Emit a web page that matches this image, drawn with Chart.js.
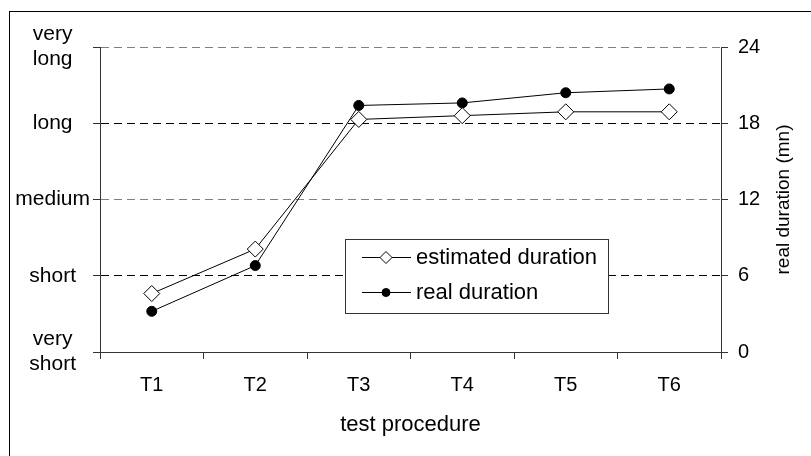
<!DOCTYPE html>
<html>
<head>
<meta charset="utf-8">
<script src="https://cdn.jsdelivr.net/npm/chart.js@4/dist/chart.umd.min.js"></script>
<style>
  html, body { margin: 0; padding: 0; background: #fff; }
  #wrap { position: relative; width: 811px; height: 456px; overflow: hidden; }
  #frame { position: absolute; left: 9px; top: 11px; width: 900px; height: 600px;
           border-left: 1px solid #000; border-top: 1px solid #000; }
  #chart { position: absolute; left: 0; top: 0; }
</style>
</head>
<body>
<div id="wrap">
  <div id="frame"></div>
  <canvas id="chart" width="811" height="456"></canvas>
</div>
<script>
const categories = ["T1", "T2", "T3", "T4", "T5", "T6"];
const estimatedDuration = [4.6, 8.1, 18.3, 18.6, 18.9, 18.9];
const realDuration = [3.2, 6.8, 19.4, 19.6, 20.4, 20.7];
const durationLabels = [["very", "short"], "short", "medium", "long", ["very", "long"]];
const minuteTicks = [0, 6, 12, 18, 24];
const gridColors = ["rgba(0,0,0,0)", "#000", "#808080", "#000", "#808080"];

const FONT = "'Liberation Sans', Arial, sans-serif";
Chart.defaults.font.family = FONT;
Chart.defaults.font.size = 20;
Chart.defaults.color = "#000";

// legend drawn inside the plot, like the original
const legendBox = {
    id: "legendBox",
    afterDraw(chart) {
        const ctx = chart.ctx;
        const area = chart.chartArea;
        const x = area.left + 245, y = area.top + 192, w = 263, h = 74;
        ctx.save();
        ctx.fillStyle = "#fff";
        ctx.fillRect(x, y, w, h);
        ctx.strokeStyle = "#333";
        ctx.lineWidth = 1;
        ctx.strokeRect(x + 0.5, y + 0.5, w, h);

        const rows = [
            { label: "estimated duration", ds: chart.data.datasets[0], cy: y + 18 },
            { label: "real duration", ds: chart.data.datasets[1], cy: y + 53 }
        ];
        rows.forEach(r => {
            const cy = Math.round(r.cy) + 0.5;
            ctx.strokeStyle = "#000";
            ctx.beginPath();
            ctx.moveTo(x + 17, cy);
            ctx.lineTo(x + 66, cy);
            ctx.stroke();
            const cx = x + 41;
            ctx.fillStyle = r.ds.pointBackgroundColor;
            ctx.beginPath();
            if (r.ds.pointStyle === "rectRot") {
                const s = 6;
                ctx.moveTo(cx, cy - s);
                ctx.lineTo(cx + s, cy);
                ctx.lineTo(cx, cy + s);
                ctx.lineTo(cx - s, cy);
                ctx.closePath();
            } else {
                ctx.arc(cx, cy, 4, 0, Math.PI * 2);
            }
            ctx.fill();
            ctx.stroke();
            ctx.fillStyle = "#000";
            ctx.font = "22px " + FONT;
            ctx.textBaseline = "middle";
            ctx.textAlign = "left";
            ctx.fillText(r.label, x + 71, cy);
        });

        // right axis title reads bottom to top
        const y2 = chart.scales.y2;
        ctx.font = "19px " + FONT;
        ctx.translate(784, (y2.top + y2.bottom) / 2);
        ctx.rotate(-Math.PI / 2);
        ctx.textAlign = "center";
        ctx.textBaseline = "middle";
        ctx.fillText("real duration (mn)", 0, 0);
        ctx.restore();
    }
};

new Chart(document.getElementById("chart"), {
    type: "line",
    data: {
        labels: categories,
        datasets: [
            {
                label: "estimated duration",
                data: estimatedDuration,
                yAxisID: "y",
                borderColor: "#000",
                borderWidth: 1,
                pointStyle: "rectRot",
                pointRadius: 8,
                pointBackgroundColor: "#fff",
                pointBorderColor: "#000",
                pointBorderWidth: 1,
                tension: 0
            },
            {
                label: "real duration",
                data: realDuration,
                yAxisID: "y2",
                borderColor: "#000",
                borderWidth: 1,
                pointStyle: "circle",
                pointRadius: 5,
                pointBackgroundColor: "#000",
                pointBorderColor: "#000",
                pointBorderWidth: 1,
                tension: 0
            }
        ]
    },
    options: {
        responsive: false,
        animation: false,
        devicePixelRatio: 1,
        layout: { padding: { top: 47, left: 0, right: 0, bottom: 0 } },
        plugins: {
            legend: { display: false },
            tooltip: { enabled: false }
        },
        scales: {
            x: {
                type: "category",
                offset: true,
                grid: { offset: true, drawOnChartArea: false, tickLength: 7, tickColor: "#333" },
                border: { color: "#333" },
                ticks: { padding: 14 },
                title: {
                    display: true,
                    text: "test procedure",
                    font: { size: 22 },
                    padding: { top: 10, bottom: 18 }
                },
                afterFit: s => { s.height = 104; }
            },
            y: {
                position: "left",
                min: 0,
                max: 24,
                afterBuildTicks: s => { s.ticks = minuteTicks.map(v => ({ value: v })); },
                ticks: {
                    crossAlign: "center",
                    padding: 3,
                    font: { size: 21 },
                    callback: (v, i) => durationLabels[i]
                },
                grid: {
                    color: c => gridColors[c.index] || "#000",
                    tickColor: "#333",
                    tickLength: 7
                },
                border: { color: "#333", dash: [8, 5] },
                afterFit: s => { s.width = 100; }
            },
            y2: {
                position: "right",
                min: 0,
                max: 24,
                afterBuildTicks: s => { s.ticks = minuteTicks.map(v => ({ value: v })); },
                ticks: { padding: 10 },
                grid: { drawOnChartArea: false, tickLength: 7, tickColor: "#333" },
                border: { color: "#333" },
                afterFit: s => { s.width = 90; }
            }
        }
    },
    plugins: [legendBox]
});
</script>
</body>
</html>
